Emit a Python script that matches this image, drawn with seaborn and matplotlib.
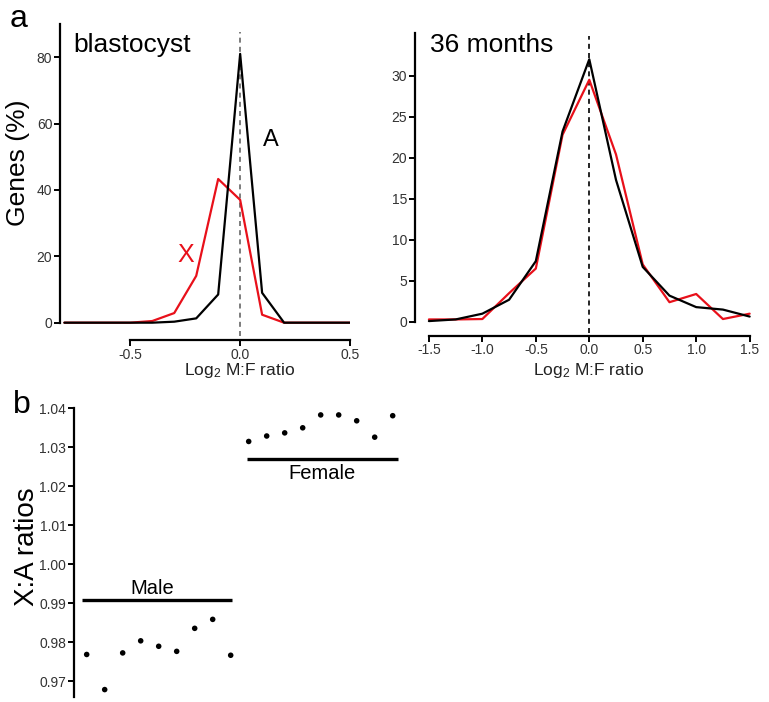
import numpy as np
import pandas as pd
import matplotlib
matplotlib.use("Agg")
import matplotlib.pyplot as plt
import seaborn as sns

sns.set_theme(style="ticks")
plt.rcParams['font.family'] = ['Liberation Sans', 'DejaVu Sans']
plt.rcParams['mathtext.fontset'] = 'custom'
plt.rcParams['mathtext.rm'] = 'Liberation Sans'
plt.rcParams['mathtext.it'] = 'Liberation Sans:italic'

# ---- Data ----
blast_x = [-0.8, -0.7, -0.6, -0.5, -0.4, -0.3, -0.2, -0.1, 0.0, 0.1, 0.2, 0.3, 0.4, 0.5]
blast_A = [0, 0, 0, 0, 0, 0.3, 1.3, 8.5, 81, 9.0, 0, 0, 0, 0]
blast_X = [0, 0, 0, 0, 0.5, 2.9, 14.1, 43.3, 37.0, 2.4, 0, 0, 0, 0]

m36_x = [-1.5, -1.25, -1.0, -0.75, -0.5, -0.25, 0.0, 0.25, 0.5, 0.75, 1.0, 1.25, 1.5]
m36_A = [0.1, 0.3, 1.0, 2.7, 7.4, 23.2, 32.0, 17.3, 6.7, 3.2, 1.8, 1.5, 0.65]
m36_X = [0.3, 0.3, 0.35, 3.5, 6.5, 22.8, 29.5, 20.4, 7.0, 2.4, 3.4, 0.35, 1.0]

male_ratios = [0.9769, 0.9679, 0.9773, 0.9804, 0.9790, 0.9777, 0.9836, 0.9859, 0.9767]
female_ratios = [1.0315, 1.0329, 1.0337, 1.0350, 1.0383, 1.0383, 1.0368, 1.0326, 1.0381]
male_level = 0.9909
female_level = 1.0270

blast_yticks = [0, 20, 40, 60, 80]
blast_xticks = [-0.5, 0.0, 0.5]
m36_yticks = [0, 5, 10, 15, 20, 25, 30]
m36_xticks = [-1.5, -1.0, -0.5, 0.0, 0.5, 1.0, 1.5]
b_yticks = [0.97, 0.98, 0.99, 1.00, 1.01, 1.02, 1.03, 1.04]

W, H = 769, 702
fig = plt.figure(figsize=(W / 100, H / 100), dpi=100)

def axrect(l, t, r, b):
    return [l / W, 1 - b / H, (r - l) / W, (b - t) / H]

tick_col = '#333333'

def style_axis(ax, lw=1.6):
    for s in ['top', 'right']:
        ax.spines[s].set_visible(False)
    for s in ['left', 'bottom']:
        ax.spines[s].set_linewidth(lw)
        ax.spines[s].set_color('black')
    ax.tick_params(axis='both', direction='out', length=4, width=1.4,
                   color='black', labelcolor=tick_col, labelsize=10, pad=1.5)
    ax.grid(False)
    ax.set_facecolor('white')

# ---- Panel a, left ----
ax1 = fig.add_axes(axrect(60, 24, 350, 326))
dfb = pd.DataFrame({'x': blast_x * 2,
                    'y': blast_A + blast_X,
                    'chrom': ['A'] * len(blast_x) + ['X'] * len(blast_x)})
sns.lineplot(data=dfb, x='x', y='y', hue='chrom', palette={'A': 'black', 'X': '#e8101a'},
             hue_order=['X', 'A'], linewidth=1.6, legend=False, ax=ax1, estimator=None)
ax1.set_xlim(-0.82, 0.5)
ax1.set_ylim(-1, 90)
style_axis(ax1)
ax1.spines['bottom'].set_position(('outward', 10))
ax1.spines['bottom'].set_bounds(-0.5, 0.5)
ax1.spines['left'].set_bounds(0, 90)
ax1.set_xticks(blast_xticks)
ax1.set_xticklabels(['-0.5', '0.0', '0.5'])
ax1.set_yticks(blast_yticks)
ax1.set_xlabel('')
ax1.set_ylabel('')
ax1.axvline(0, ymin=-0.033, ymax=0.975, color='#666666', linestyle=(0, (3, 2.5)),
            linewidth=1.2, clip_on=False, zorder=0)
ax1.text(0.045, 0.93, 'blastocyst', transform=ax1.transAxes, fontsize=19,
         ha='left', va='center', color='black')
ax1.text(0.138, 55, 'A', fontsize=17, ha='center', va='center', color='black')
ax1.text(-0.247, 20.5, 'X', fontsize=18, ha='center', va='center', color='#e8101a')

# ---- Panel a, right ----
ax2 = fig.add_axes(axrect(415, 33, 755, 326))
dfm = pd.DataFrame({'x': m36_x * 2,
                    'y': m36_X + m36_A,
                    'chrom': ['X'] * len(m36_x) + ['A'] * len(m36_x)})
sns.lineplot(data=dfm, x='x', y='y', hue='chrom', palette={'A': 'black', 'X': '#e8101a'},
             hue_order=['X', 'A'], linewidth=1.6, legend=False, ax=ax2, estimator=None)
ax2.set_xlim(-1.63, 1.55)
ax2.set_ylim(-0.5, 35.2)
style_axis(ax2)
ax2.spines['bottom'].set_position(('outward', 7))
ax2.spines['bottom'].set_bounds(-1.5, 1.5)
ax2.spines['left'].set_bounds(0, 35.2)
ax2.set_xticks(m36_xticks)
ax2.set_xticklabels(['-1.5', '-1.0', '-0.5', '0.0', '0.5', '1.0', '1.5'])
ax2.set_yticks(m36_yticks)
ax2.set_xlabel('')
ax2.set_ylabel('')
ax2.axvline(0, ymin=-0.024, ymax=0.99, color='black', linestyle=(0, (3, 2.5)),
            linewidth=1.2, clip_on=False, zorder=0)
ax2.text(0.044, 0.959, '36 months', transform=ax2.transAxes, fontsize=19,
         ha='left', va='center', color='black')

# x labels
fig.text(240 / W, 1 - 371 / H, r'Log$_2$ M:F ratio', fontsize=12.5, ha='center',
         va='center', color='#222222')
fig.text(589 / W, 1 - 371 / H, r'Log$_2$ M:F ratio', fontsize=12.5, ha='center',
         va='center', color='#222222')
fig.text(18 / W, 1 - 163 / H, 'Genes (%)', fontsize=19, rotation=90, ha='center',
         va='center', color='black')

# ---- Panel b ----
ax3 = fig.add_axes(axrect(74, 408.3, 403.5, 697))
n_m, n_f = len(male_ratios), len(female_ratios)
dfs = pd.DataFrame({'pos': np.arange(1, n_m + n_f + 1),
                    'ratio': male_ratios + female_ratios,
                    'sex': ['Male'] * n_m + ['Female'] * n_f})
sns.scatterplot(data=dfs, x='pos', y='ratio', color='black', s=16, edgecolor='none',
                ax=ax3, legend=False)
ax3.set_xlim(0.295, 18.6)
ax3.set_ylim(0.966, 1.04)
style_axis(ax3)
ax3.spines['bottom'].set_visible(False)
ax3.spines['left'].set_bounds(0.966, 1.04)
ax3.set_xticks([])
ax3.set_yticks(b_yticks)
ax3.set_yticklabels([f'{v:.2f}' for v in b_yticks])
ax3.set_xlabel('')
ax3.set_ylabel('')
ax3.hlines(male_level, 0.74, 9.1, color='black', linewidth=2.4)
ax3.hlines(female_level, 9.9, 18.28, color='black', linewidth=2.4)
ax3.text(4.63, 0.9937, 'Male', fontsize=14.5, ha='center', va='center', color='black')
ax3.text(14.1, 1.0232, 'Female', fontsize=14.5, ha='center', va='center', color='black')
fig.text(27 / W, 1 - 547 / H, 'X:A ratios', fontsize=20, rotation=90, ha='center',
         va='center', color='black')

# panel letters
fig.text(10 / W, 1 - 27 / H, 'a', fontsize=23, ha='left', va='baseline', color='black')
fig.text(13 / W, 1 - 413 / H, 'b', fontsize=23, ha='left', va='baseline', color='black')

fig.savefig('out.png', dpi=100, facecolor='white')
